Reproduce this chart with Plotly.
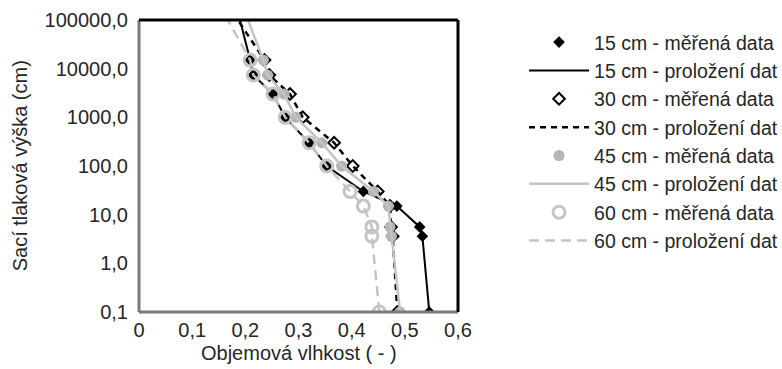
import plotly.graph_objects as go

# suction heads (cm) of measured points
h = [0.1, 3.6, 5.6, 15, 30, 100, 300, 1000, 3000, 7400, 15000]
# fit curves extend to the top of the axis
h_fit = [0.1, 3.6, 5.6, 15, 30, 100, 300, 1000, 3000, 7400, 15000, 100000]

m15 = [0.546, 0.533, 0.528, 0.485, 0.422, 0.353, 0.320, 0.275, 0.252, 0.215, 0.209]
m30 = [0.486, 0.477, 0.474, 0.472, 0.449, 0.402, 0.367, 0.308, 0.284, 0.245, 0.236]
m45 = [0.491, 0.475, 0.472, 0.469, 0.441, 0.381, 0.344, 0.295, 0.273, 0.242, 0.234]
m60 = [0.452, 0.438, 0.438, 0.422, 0.397, 0.353, 0.320, 0.275, 0.252, 0.215, 0.209]

f15 = m15 + [0.190]
f30 = m30 + [0.186]
f45 = m45 + [0.205]
f60 = m60 + [0.167]

x_ticks = [0, 0.1, 0.2, 0.3, 0.4, 0.5, 0.6]
x_labels = ["0", "0,1", "0,2", "0,3", "0,4", "0,5", "0,6"]
y_ticks = [0.1, 1, 10, 100, 1000, 10000, 100000]
y_labels = ["0,1", "1,0", "10,0", "100,0", "1000,0", "10000,0", "100000,0"]

names = ["15 cm - měřená data", "15 cm - proložení dat",
         "30 cm - měřená data", "30 cm - proložení dat",
         "45 cm - měřená data", "45 cm - proložení dat",
         "60 cm - měřená data", "60 cm - proložení dat"]

BLACK = "#000000"
GRAY = "#b4b4b4"
GRAY2 = "#c4c4c4"

fig = go.Figure()

fig.add_trace(go.Scatter(x=m15, y=h, mode="markers", name=names[0],
                         marker=dict(symbol="diamond", size=9, color=BLACK)))
fig.add_trace(go.Scatter(x=f15, y=h_fit, mode="lines", name=names[1],
                         line=dict(color=BLACK, width=2)))
fig.add_trace(go.Scatter(x=m30, y=h, mode="markers", name=names[2],
                         marker=dict(symbol="diamond", size=9, color="white",
                                     line=dict(color=BLACK, width=2))))
fig.add_trace(go.Scatter(x=f30, y=h_fit, mode="lines", name=names[3],
                         line=dict(color=BLACK, width=2.5, dash="6px,5px")))
fig.add_trace(go.Scatter(x=m45, y=h, mode="markers", name=names[4],
                         marker=dict(symbol="circle", size=11, color=GRAY)))
fig.add_trace(go.Scatter(x=f45, y=h_fit, mode="lines", name=names[5],
                         line=dict(color=GRAY2, width=2.5)))
fig.add_trace(go.Scatter(x=m60, y=h, mode="markers", name=names[6],
                         marker=dict(symbol="circle-open", size=12, color=GRAY2,
                                     line=dict(color=GRAY2, width=3))))
fig.add_trace(go.Scatter(x=f60, y=h_fit, mode="lines", name=names[7],
                         line=dict(color=GRAY2, width=2.5, dash="10px,6px")))

FONT = "Liberation Sans, Arial, sans-serif"
TXT = "#262626"
FS = 20
fig.update_layout(
    width=782, height=369,
    margin=dict(l=139, r=324, t=20, b=57, autoexpand=False),
    paper_bgcolor="white", plot_bgcolor="white",
    font=dict(family=FONT, size=FS, color=TXT),
    showlegend=True,
    legend=dict(x=1.207, y=0.99, xanchor="left", yanchor="top",
                traceorder="normal",
                font=dict(size=19.5, color=TXT),
                bgcolor="rgba(0,0,0,0)", itemwidth=60),
    xaxis=dict(range=[0, 0.6], tickvals=x_ticks, ticktext=x_labels,
               showgrid=False, zeroline=False, showline=False,
               ticks="", ticklabelstandoff=4, tickfont=dict(size=FS)),
    yaxis=dict(type="log", range=[-1, 5], tickvals=y_ticks, ticktext=y_labels,
               showgrid=False, zeroline=False, showline=False,
               ticks="", ticklabelstandoff=10, tickfont=dict(size=FS)),
    annotations=[
        dict(text="Objemová vlhkost ( - )", xref="paper", yref="paper",
             x=0.5, y=-0.140, xanchor="center", yanchor="middle", showarrow=False,
             font=dict(size=FS, color=TXT)),
        dict(text="Sací tlaková výška (cm)", xref="paper", yref="paper",
             x=-0.372, y=0.5, xanchor="center", yanchor="middle", showarrow=False,
             textangle=-90, font=dict(size=FS, color=TXT)),
    ],
    shapes=[
        dict(type="line", xref="paper", yref="paper", x0=0, x1=0, y0=0, y1=1,
             line=dict(color="#7a7a7a", width=3), layer="above"),
        dict(type="line", xref="paper", yref="paper", x0=0, x1=1, y0=0, y1=0,
             line=dict(color="#7a7a7a", width=3), layer="above"),
        dict(type="line", xref="paper", yref="paper", x0=0, x1=1, y0=1, y1=1,
             line=dict(color="#000000", width=3), layer="above"),
        dict(type="line", xref="paper", yref="paper", x0=1, x1=1, y0=0, y1=1,
             line=dict(color="#000000", width=3), layer="above"),
    ],
)

fig.write_html("out.html")
